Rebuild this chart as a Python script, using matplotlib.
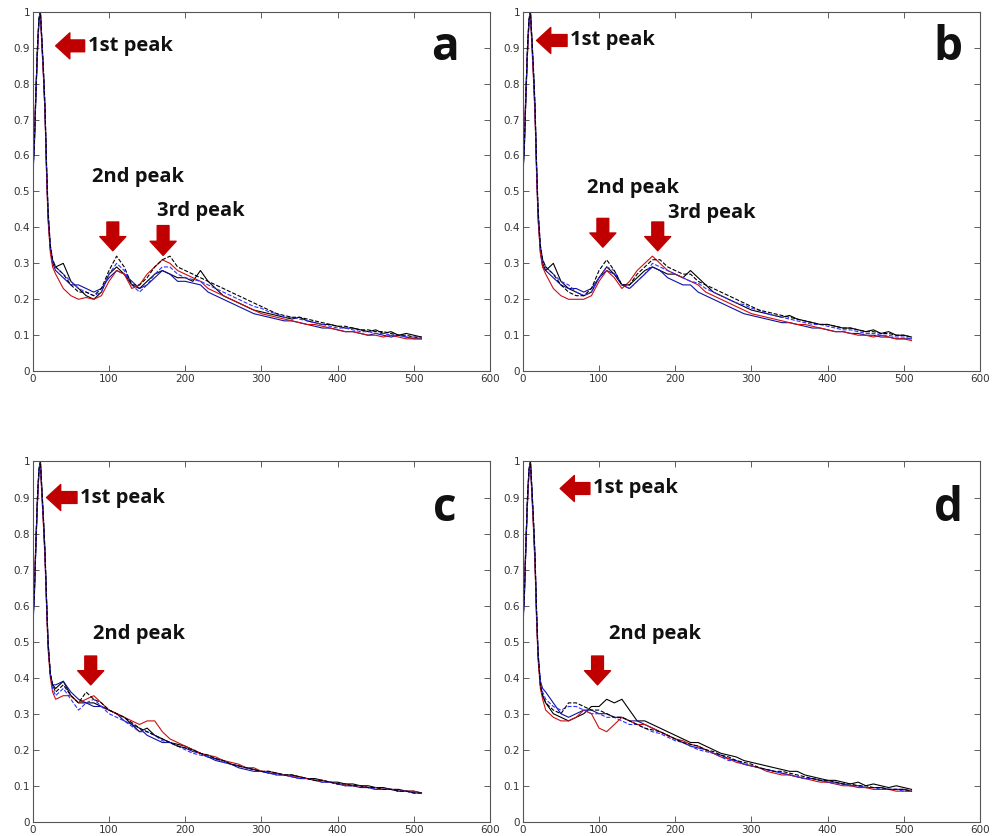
import numpy as np
import matplotlib.pyplot as plt

# shared sample positions (dense around the first peak, then every 10)
x_vals = [0, 2, 4, 6, 8, 10, 12, 14, 16, 18, 20, 23, 26] + list(range(30, 520, 10))

# ---- panel a ----
a_k = [0.55, 0.63, 0.77, 0.89, 0.98, 1.00, 0.91, 0.83, 0.73, 0.57, 0.44, 0.34, 0.30,
       0.29, 0.30, 0.25, 0.23, 0.21, 0.20, 0.22, 0.27, 0.29, 0.27,
       0.24, 0.23, 0.25, 0.27, 0.28, 0.27, 0.26, 0.26, 0.25, 0.28,
       0.25, 0.23, 0.21, 0.20, 0.19, 0.18, 0.17, 0.165, 0.16, 0.155,
       0.15, 0.145, 0.15, 0.14, 0.135, 0.13, 0.13, 0.125, 0.12, 0.12,
       0.115, 0.11, 0.115, 0.105, 0.11, 0.10, 0.105, 0.10, 0.095]
a_b = [0.54, 0.62, 0.76, 0.88, 0.97, 0.99, 0.92, 0.82, 0.72, 0.56, 0.43, 0.34, 0.30,
       0.28, 0.26, 0.24, 0.24, 0.23, 0.22, 0.23, 0.26, 0.28, 0.27,
       0.25, 0.23, 0.24, 0.26, 0.28, 0.27, 0.25, 0.25, 0.245, 0.24,
       0.22, 0.21, 0.20, 0.19, 0.18, 0.17, 0.16, 0.155, 0.15, 0.145,
       0.14, 0.14, 0.135, 0.13, 0.125, 0.12, 0.12, 0.115, 0.11, 0.11,
       0.105, 0.10, 0.105, 0.10, 0.095, 0.10, 0.095, 0.09, 0.09]
a_r = [0.58, 0.65, 0.78, 0.88, 0.97, 0.99, 0.90, 0.82, 0.72, 0.55, 0.42, 0.33, 0.29,
       0.27, 0.23, 0.21, 0.20, 0.205, 0.20, 0.21, 0.25, 0.28, 0.27,
       0.23, 0.24, 0.27, 0.29, 0.31, 0.30, 0.28, 0.27, 0.26, 0.25,
       0.23, 0.22, 0.21, 0.20, 0.19, 0.18, 0.17, 0.16, 0.155, 0.15,
       0.145, 0.14, 0.135, 0.13, 0.13, 0.125, 0.12, 0.115, 0.11, 0.11,
       0.105, 0.10, 0.10, 0.095, 0.10, 0.095, 0.09, 0.09, 0.09]
a_bd = [0.56, 0.64, 0.77, 0.89, 0.98, 1.00, 0.91, 0.83, 0.73, 0.57, 0.44, 0.35, 0.31,
        0.29, 0.27, 0.25, 0.23, 0.22, 0.21, 0.22, 0.27, 0.30, 0.28,
        0.24, 0.22, 0.24, 0.27, 0.29, 0.29, 0.27, 0.26, 0.255, 0.25,
        0.24, 0.23, 0.22, 0.21, 0.20, 0.19, 0.18, 0.175, 0.165, 0.16,
        0.15, 0.15, 0.145, 0.14, 0.135, 0.13, 0.125, 0.12, 0.12, 0.115,
        0.11, 0.11, 0.105, 0.105, 0.10, 0.10, 0.095, 0.095, 0.09]
a_kd = [0.55, 0.63, 0.77, 0.90, 0.98, 1.00, 0.92, 0.84, 0.74, 0.58, 0.45, 0.35, 0.31,
        0.29, 0.27, 0.24, 0.22, 0.22, 0.21, 0.23, 0.28, 0.32, 0.29,
        0.24, 0.24, 0.26, 0.29, 0.31, 0.32, 0.29, 0.28, 0.27, 0.26,
        0.25, 0.24, 0.23, 0.22, 0.21, 0.20, 0.19, 0.18, 0.17, 0.16,
        0.155, 0.15, 0.15, 0.145, 0.14, 0.135, 0.13, 0.125, 0.125, 0.12,
        0.115, 0.115, 0.11, 0.11, 0.105, 0.10, 0.10, 0.095, 0.095]

# ---- panel b ----
b_k = [0.54, 0.62, 0.76, 0.88, 0.97, 1.00, 0.92, 0.83, 0.73, 0.57, 0.44, 0.34, 0.30,
       0.28, 0.30, 0.25, 0.23, 0.22, 0.21, 0.22, 0.26, 0.29, 0.27,
       0.24, 0.24, 0.26, 0.28, 0.29, 0.28, 0.27, 0.27, 0.26, 0.28,
       0.26, 0.24, 0.22, 0.21, 0.20, 0.19, 0.18, 0.17, 0.165, 0.16,
       0.155, 0.15, 0.155, 0.145, 0.14, 0.135, 0.13, 0.13, 0.125, 0.12,
       0.12, 0.115, 0.11, 0.115, 0.105, 0.11, 0.10, 0.10, 0.095]
b_b = [0.55, 0.63, 0.77, 0.89, 0.97, 0.99, 0.91, 0.82, 0.72, 0.56, 0.43, 0.33, 0.29,
       0.28, 0.26, 0.24, 0.23, 0.23, 0.22, 0.23, 0.26, 0.28, 0.27,
       0.24, 0.23, 0.25, 0.27, 0.29, 0.28, 0.26, 0.25, 0.24, 0.24,
       0.22, 0.21, 0.20, 0.19, 0.18, 0.17, 0.16, 0.155, 0.15, 0.145,
       0.14, 0.135, 0.135, 0.13, 0.125, 0.12, 0.12, 0.115, 0.11, 0.11,
       0.105, 0.105, 0.10, 0.10, 0.095, 0.095, 0.09, 0.09, 0.09]
b_r = [0.60, 0.66, 0.78, 0.88, 0.97, 0.99, 0.90, 0.81, 0.71, 0.55, 0.42, 0.33, 0.29,
       0.27, 0.23, 0.21, 0.20, 0.20, 0.20, 0.21, 0.25, 0.28, 0.26,
       0.23, 0.25, 0.28, 0.30, 0.32, 0.30, 0.28, 0.27, 0.26, 0.25,
       0.24, 0.22, 0.21, 0.20, 0.19, 0.18, 0.17, 0.16, 0.155, 0.15,
       0.145, 0.14, 0.135, 0.13, 0.13, 0.125, 0.12, 0.115, 0.11, 0.11,
       0.105, 0.10, 0.10, 0.095, 0.10, 0.095, 0.09, 0.09, 0.085]
b_bd = [0.56, 0.64, 0.77, 0.89, 0.98, 1.00, 0.91, 0.83, 0.73, 0.57, 0.44, 0.35, 0.31,
        0.29, 0.27, 0.25, 0.24, 0.22, 0.21, 0.22, 0.26, 0.29, 0.28,
        0.24, 0.23, 0.25, 0.27, 0.30, 0.29, 0.28, 0.27, 0.26, 0.25,
        0.245, 0.23, 0.22, 0.21, 0.20, 0.19, 0.185, 0.175, 0.17, 0.16,
        0.155, 0.15, 0.145, 0.14, 0.135, 0.13, 0.13, 0.125, 0.12, 0.115,
        0.115, 0.11, 0.105, 0.105, 0.10, 0.10, 0.095, 0.095, 0.09]
b_kd = [0.55, 0.63, 0.77, 0.90, 0.98, 1.00, 0.92, 0.84, 0.74, 0.58, 0.45, 0.35, 0.31,
        0.29, 0.27, 0.24, 0.22, 0.21, 0.21, 0.23, 0.28, 0.31, 0.28,
        0.24, 0.24, 0.27, 0.29, 0.31, 0.31, 0.29, 0.28, 0.27, 0.27,
        0.25, 0.24, 0.23, 0.22, 0.21, 0.20, 0.19, 0.18, 0.17, 0.165,
        0.16, 0.155, 0.15, 0.145, 0.14, 0.135, 0.13, 0.13, 0.125, 0.12,
        0.12, 0.115, 0.11, 0.11, 0.105, 0.105, 0.10, 0.10, 0.095]

# ---- panel c ----
c_k = [0.55, 0.63, 0.77, 0.89, 0.97, 1.00, 0.92, 0.84, 0.75, 0.62, 0.50, 0.41, 0.38,
       0.37, 0.39, 0.35, 0.33, 0.33, 0.33, 0.32, 0.31, 0.30, 0.29,
       0.27, 0.25, 0.26, 0.24, 0.23, 0.22, 0.215, 0.21, 0.20, 0.19,
       0.18, 0.175, 0.17, 0.16, 0.155, 0.15, 0.145, 0.14, 0.135, 0.135,
       0.13, 0.13, 0.125, 0.12, 0.12, 0.115, 0.11, 0.11, 0.105, 0.105,
       0.10, 0.10, 0.095, 0.095, 0.09, 0.09, 0.085, 0.085, 0.08]
c_b = [0.54, 0.62, 0.76, 0.88, 0.97, 0.99, 0.91, 0.83, 0.74, 0.61, 0.49, 0.41, 0.38,
       0.38, 0.39, 0.36, 0.34, 0.33, 0.32, 0.32, 0.31, 0.30, 0.28,
       0.27, 0.26, 0.24, 0.23, 0.22, 0.22, 0.21, 0.205, 0.195, 0.19,
       0.18, 0.17, 0.165, 0.16, 0.15, 0.145, 0.14, 0.14, 0.135, 0.13,
       0.13, 0.125, 0.12, 0.12, 0.115, 0.11, 0.11, 0.105, 0.10, 0.10,
       0.095, 0.095, 0.09, 0.09, 0.09, 0.085, 0.085, 0.08, 0.08]
c_r = [0.58, 0.65, 0.78, 0.88, 0.97, 0.99, 0.90, 0.82, 0.73, 0.60, 0.48, 0.40, 0.36,
       0.34, 0.35, 0.35, 0.33, 0.34, 0.35, 0.33, 0.31, 0.30, 0.29,
       0.28, 0.27, 0.28, 0.28, 0.25, 0.23, 0.22, 0.21, 0.20, 0.19,
       0.185, 0.18, 0.17, 0.165, 0.16, 0.15, 0.15, 0.14, 0.14, 0.135,
       0.13, 0.125, 0.125, 0.12, 0.115, 0.115, 0.11, 0.105, 0.105, 0.10,
       0.10, 0.095, 0.095, 0.09, 0.09, 0.085, 0.085, 0.085, 0.08]
c_bd = [0.56, 0.64, 0.77, 0.89, 0.98, 1.00, 0.91, 0.83, 0.74, 0.61, 0.50, 0.41, 0.37,
        0.35, 0.37, 0.34, 0.31, 0.33, 0.34, 0.32, 0.30, 0.29, 0.28,
        0.265, 0.25, 0.25, 0.24, 0.225, 0.22, 0.21, 0.20, 0.19, 0.185,
        0.18, 0.175, 0.165, 0.16, 0.155, 0.15, 0.145, 0.14, 0.135, 0.13,
        0.13, 0.125, 0.12, 0.12, 0.115, 0.11, 0.11, 0.105, 0.10, 0.10,
        0.10, 0.095, 0.09, 0.09, 0.09, 0.085, 0.085, 0.08, 0.08]
c_kd = [0.55, 0.63, 0.77, 0.90, 0.98, 1.00, 0.92, 0.84, 0.75, 0.62, 0.50, 0.41, 0.38,
        0.36, 0.38, 0.35, 0.33, 0.36, 0.34, 0.33, 0.31, 0.30, 0.29,
        0.275, 0.26, 0.25, 0.24, 0.23, 0.22, 0.21, 0.205, 0.20, 0.19,
        0.185, 0.175, 0.17, 0.16, 0.155, 0.15, 0.145, 0.14, 0.14, 0.135,
        0.13, 0.13, 0.125, 0.12, 0.115, 0.115, 0.11, 0.105, 0.105, 0.10,
        0.10, 0.095, 0.095, 0.09, 0.09, 0.085, 0.085, 0.08, 0.08]

# ---- panel d ----
d_k = [0.55, 0.63, 0.77, 0.89, 0.97, 1.00, 0.92, 0.83, 0.73, 0.58, 0.46, 0.38, 0.35,
       0.33, 0.30, 0.29, 0.28, 0.29, 0.30, 0.32, 0.32, 0.34, 0.33,
       0.34, 0.31, 0.28, 0.28, 0.27, 0.26, 0.25, 0.24, 0.23, 0.22,
       0.22, 0.21, 0.20, 0.19, 0.185, 0.18, 0.17, 0.165, 0.16, 0.155,
       0.15, 0.145, 0.14, 0.14, 0.13, 0.125, 0.12, 0.115, 0.115, 0.11,
       0.105, 0.11, 0.10, 0.105, 0.10, 0.095, 0.10, 0.095, 0.09]
d_b = [0.54, 0.62, 0.76, 0.88, 0.97, 0.99, 0.91, 0.82, 0.72, 0.57, 0.46, 0.39, 0.37,
       0.36, 0.33, 0.30, 0.29, 0.30, 0.31, 0.31, 0.30, 0.30, 0.29,
       0.29, 0.28, 0.28, 0.27, 0.26, 0.25, 0.24, 0.23, 0.22, 0.21,
       0.205, 0.20, 0.19, 0.185, 0.175, 0.17, 0.16, 0.155, 0.15, 0.145,
       0.14, 0.135, 0.13, 0.125, 0.12, 0.12, 0.115, 0.11, 0.11, 0.105,
       0.10, 0.10, 0.095, 0.095, 0.095, 0.09, 0.09, 0.09, 0.085]
d_r = [0.58, 0.65, 0.78, 0.88, 0.97, 0.99, 0.90, 0.81, 0.71, 0.56, 0.45, 0.37, 0.34,
       0.31, 0.29, 0.28, 0.28, 0.29, 0.31, 0.30, 0.26, 0.25, 0.27,
       0.29, 0.28, 0.27, 0.27, 0.26, 0.25, 0.24, 0.23, 0.225, 0.215,
       0.21, 0.20, 0.19, 0.18, 0.175, 0.165, 0.16, 0.155, 0.15, 0.14,
       0.135, 0.13, 0.13, 0.125, 0.12, 0.115, 0.11, 0.11, 0.105, 0.10,
       0.10, 0.095, 0.095, 0.09, 0.09, 0.09, 0.085, 0.085, 0.085]
d_bd = [0.56, 0.64, 0.77, 0.89, 0.98, 1.00, 0.91, 0.83, 0.73, 0.58, 0.47, 0.39, 0.36,
        0.34, 0.32, 0.31, 0.32, 0.32, 0.31, 0.30, 0.30, 0.29, 0.29,
        0.28, 0.27, 0.27, 0.26, 0.25, 0.245, 0.235, 0.225, 0.22, 0.21,
        0.20, 0.195, 0.19, 0.18, 0.17, 0.17, 0.16, 0.155, 0.15, 0.145,
        0.14, 0.135, 0.13, 0.125, 0.12, 0.12, 0.115, 0.11, 0.105, 0.105,
        0.10, 0.10, 0.095, 0.095, 0.09, 0.09, 0.09, 0.085, 0.085]
d_kd = [0.55, 0.63, 0.77, 0.90, 0.98, 1.00, 0.92, 0.84, 0.74, 0.59, 0.47, 0.38, 0.35,
        0.33, 0.31, 0.30, 0.33, 0.33, 0.32, 0.31, 0.31, 0.30, 0.29,
        0.29, 0.28, 0.27, 0.26, 0.255, 0.25, 0.24, 0.23, 0.22, 0.215,
        0.21, 0.20, 0.195, 0.185, 0.18, 0.17, 0.165, 0.16, 0.15, 0.145,
        0.14, 0.14, 0.135, 0.13, 0.125, 0.12, 0.115, 0.115, 0.11, 0.105,
        0.105, 0.10, 0.10, 0.095, 0.095, 0.09, 0.09, 0.09, 0.085]

# colour / style per curve (same order in every panel)
styles = [('k', '-'), ('#1010a0', '-'), ('#cc1010', '-'), ('#3030ff', '--'), ('k', '--')]

panels = {
    'a': [a_k, a_b, a_r, a_bd, a_kd],
    'b': [b_k, b_b, b_r, b_bd, b_kd],
    'c': [c_k, c_b, c_r, c_bd, c_kd],
    'd': [d_k, d_b, d_r, d_bd, d_kd],
}

# annotation spots: (label, text x, text y, ha, arrow tail, arrow tip)
notes = {
    'a': [('1st peak', 72, 0.905, 'left', (68, 0.905), (30, 0.905)),
          ('2nd peak', 138, 0.54, 'center', (105, 0.415), (105, 0.335)),
          ('3rd peak', 163, 0.445, 'left', (171, 0.405), (171, 0.322))],
    'b': [('1st peak', 62, 0.92, 'left', (58, 0.92), (18, 0.92)),
          ('2nd peak', 144, 0.51, 'center', (105, 0.425), (105, 0.345)),
          ('3rd peak', 190, 0.44, 'left', (177, 0.415), (177, 0.335))],
    'c': [('1st peak', 62, 0.90, 'left', (58, 0.90), (18, 0.90)),
          ('2nd peak', 140, 0.52, 'center', (76, 0.46), (76, 0.38))],
    'd': [('1st peak', 92, 0.925, 'left', (88, 0.925), (49, 0.925)),
          ('2nd peak', 173, 0.52, 'center', (98, 0.46), (98, 0.38))],
}

letter_pos = {'a': (541, 0.90), 'b': (558, 0.90), 'c': (541, 0.87), 'd': (558, 0.87)}

boxes = {
    'a': [0.033, 0.556, 0.460, 0.430],
    'b': [0.526, 0.556, 0.460, 0.430],
    'c': [0.033, 0.017, 0.460, 0.431],
    'd': [0.526, 0.017, 0.460, 0.431],
}

fig = plt.figure(figsize=(9.94, 8.36), dpi=100)

for key in ['a', 'b', 'c', 'd']:
    ax = fig.add_axes(boxes[key])
    for (col, ls), yv in zip(styles, panels[key]):
        ax.plot(x_vals, yv, color=col, linestyle=ls, linewidth=0.8)
    ax.set_xlim(0, 600)
    ax.set_ylim(0, 1)
    ax.set_xticks(np.arange(0, 601, 100))
    ax.set_yticks(np.arange(0, 1.01, 0.1))
    ax.set_yticklabels(['0', '0.1', '0.2', '0.3', '0.4', '0.5', '0.6', '0.7', '0.8', '0.9', '1'])
    ax.tick_params(direction='in', top=True, right=True, length=4, width=0.6,
                   labelsize=7.5, labelcolor='#333333', pad=2, color='#444444')
    for sp in ax.spines.values():
        sp.set_linewidth(0.8)
        sp.set_color('#555555')

    for label, tx, ty, ha, tail, tip in notes[key]:
        ax.text(tx, ty, label, ha=ha, va='center', fontsize=14.5, fontweight='bold',
                family=['Open Sans', 'DejaVu Sans'], color='#111111')
        ax.annotate('', xy=tip, xytext=tail,
                    arrowprops=dict(arrowstyle='simple,head_length=0.6,head_width=1.1,tail_width=0.5',
                                    color='#c00000', mutation_scale=17, shrinkA=0, shrinkB=0))
    lx, ly = letter_pos[key]
    ax.text(lx, ly, key, ha='center', va='center', fontsize=33, fontweight='bold',
            family=['Open Sans', 'DejaVu Sans'], color='#111111')

fig.savefig('out.png', dpi=100)
